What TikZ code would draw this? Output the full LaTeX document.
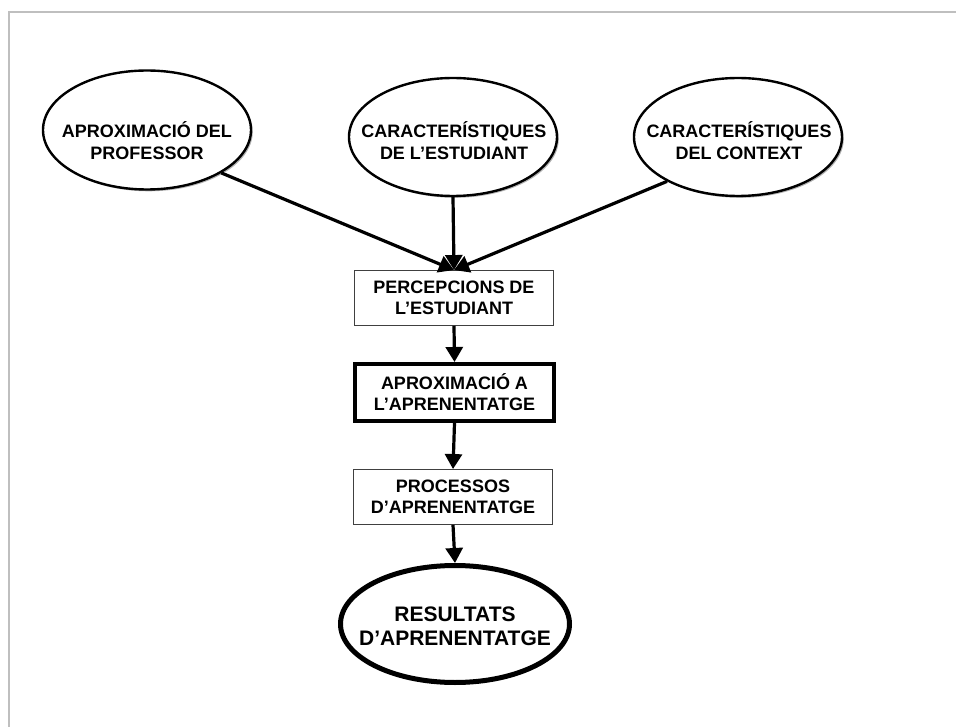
\documentclass[tikz,border=0pt]{standalone}
\usepackage{fontspec}
\setmainfont{Liberation Sans}
\usetikzlibrary{shapes.geometric,arrows.meta,shadows}
\tikzset{
  ell/.style={ellipse, draw, fill=white, inner sep=0pt, line width=2.4pt,
    drop shadow={shadow xshift=1.8pt, shadow yshift=-1.8pt, fill=black, opacity=0.3}},
  etext/.style={align=center, inner sep=0pt, font=\bfseries\fontsize{18}{22}\selectfont},
  thinbox/.style={rectangle, draw=black!75, line width=0.9pt, fill=white, align=center,
    inner sep=0pt, font=\bfseries\fontsize{18}{21}\selectfont},
  thickbox/.style={rectangle, draw=black, line width=4pt, fill=white, align=center,
    inner sep=0pt, font=\bfseries\fontsize{18}{21}\selectfont},
  arr/.style={line width=3.2pt, -{Triangle[width=17pt,length=15pt]}},
  frameline/.style={draw=black!25, line width=2pt}
}
\begin{document}
\begin{tikzpicture}[x=1pt,y=-1pt]
\useasboundingbox (0,0) rectangle (956,727);
\coordinate (fa) at (8.5,727);
\coordinate (fb) at (8.5,12.5);
\coordinate (fc) at (956,12.5);
\draw[frameline] (fa) -- (fb) -- (fc);

% ellipses
\node[ell, minimum width=208pt, minimum height=119pt] (e1) at (147,130) {};
\node[etext] (e1t) at (147,141) {APROXIMACIÓ DEL\\PROFESSOR};
\node[ell, minimum width=208pt, minimum height=118pt] (e2) at (453,137) {};
\node[etext] (e2t) at (454,141) {CARACTERÍSTIQUES\\DE L’ESTUDIANT};
\node[ell, minimum width=208pt, minimum height=118pt] (e3) at (738,137) {};
\node[etext] (e3t) at (739,141) {CARACTERÍSTIQUES\\DEL CONTEXT};

% boxes
\node[thinbox, minimum width=199pt, minimum height=55pt] (p1) at (454,298)
  {PERCEPCIONS DE\\L’ESTUDIANT};
\node[thickbox, minimum width=199pt, minimum height=57pt] (p2) at (454.5,392.5)
  {APROXIMACIÓ A\\L’APRENENTATGE};
\node[thinbox, minimum width=199pt, minimum height=55pt] (p3) at (453,497)
  {PROCESSOS\\D’APRENENTATGE};

% result
\node[ell, line width=5pt, minimum width=229pt, minimum height=117pt] (e4) at (455,624) {};
\node[etext, font=\bfseries\fontsize{21}{24}\selectfont] (e4t) at (455,626)
  {RESULTATS\\D’APRENENTATGE};

% connectors
\draw[arr] (e1.-30) -- (p1.north);
\draw[arr] (e2.south) -- (p1.north);
\draw[arr] (e3.-148) -- (p1.north);
\draw[arr] (p1.south) -- (p2.north);
\draw[arr] (p2.south) -- (p3.north);
\draw[arr] (p3.south) -- (e4.north);
\end{tikzpicture}
\end{document}
